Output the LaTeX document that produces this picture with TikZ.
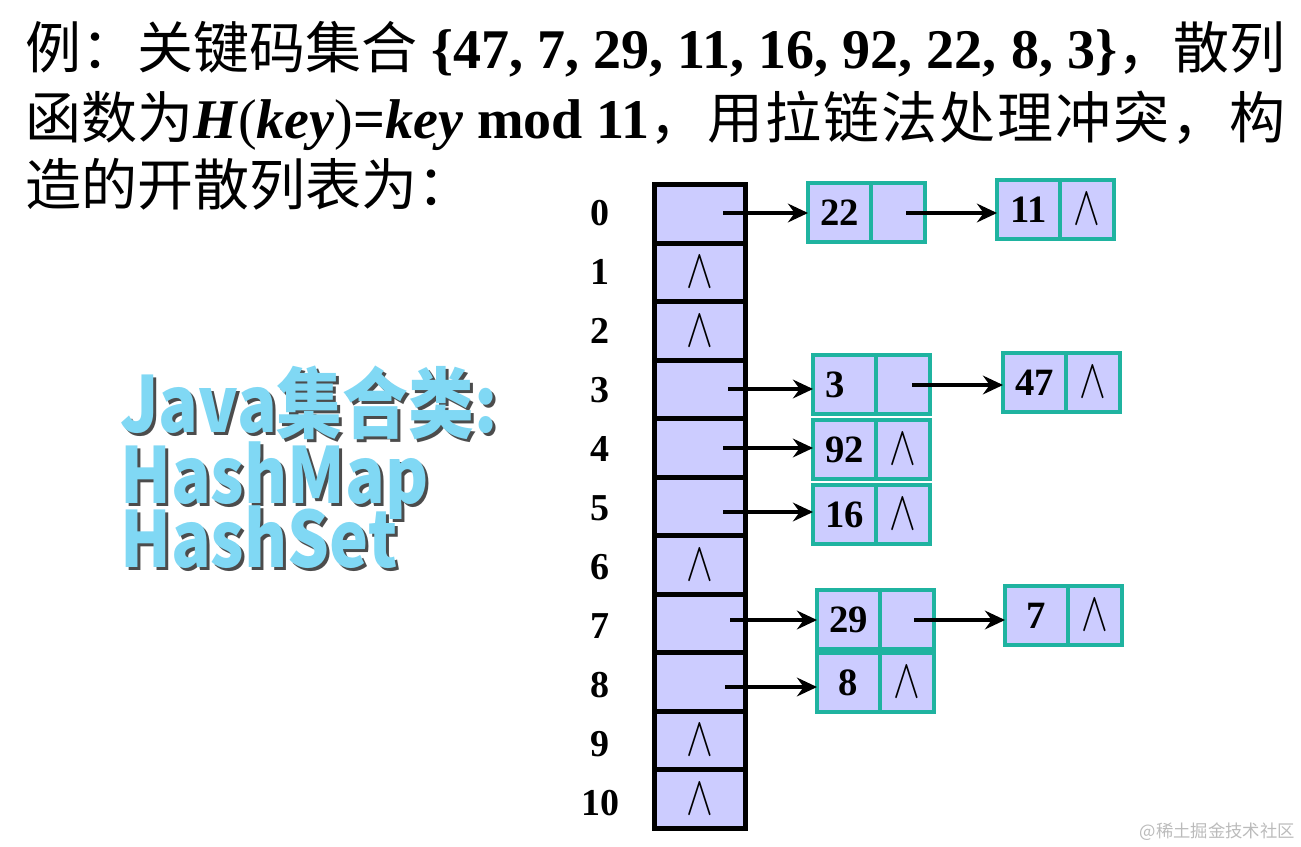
\documentclass[tikz,border=0pt]{standalone}
\usepackage{fontspec}
\usetikzlibrary{arrows.meta}
\setmainfont{Liberation Serif}
\newfontfamily\cjk{Noto Sans CJK SC}
\definecolor{cellfill}{HTML}{CCCCFF}
\definecolor{tealb}{HTML}{1FB3A0}
\definecolor{javacyan}{HTML}{80D8F4}
\definecolor{wmgray}{HTML}{BBBBBB}
\newcommand\nul{\scalebox{1.45}[2.0]{\fontsize{20.74}{20}\selectfont$\wedge$}}
\newcommand\gs{\hskip 0pt plus 1fil\relax}
\tikzset{
  slot/.style={draw=black, line width=3.75pt, fill=cellfill, minimum width=68.25pt,
    minimum height=43.875pt, anchor=north west, inner sep=0pt, outer sep=0pt},
  idx/.style={font=\fontsize{28.5}{28}\selectfont\bfseries, anchor=center},
  valcell/.style={draw=tealb, line width=3pt, fill=cellfill, minimum width=47.25pt,
    minimum height=44.25pt, anchor=north west, inner sep=0pt, outer sep=0pt,
    font=\fontsize{29}{29}\selectfont\bfseries},
  ptrcell/.style={draw=tealb, line width=3pt, fill=cellfill, minimum width=40.5pt,
    minimum height=44.25pt, anchor=north west, inner sep=0pt, outer sep=0pt},
  arr/.style={line width=3pt, -{Stealth[length=15pt,width=14pt,inset=5pt]}},
  titletext/.style={anchor=base west, inner sep=0pt, font=\fontsize{42}{42}\selectfont},
  javatext/.style={anchor=base west, inner sep=0pt, font=\cjk\bfseries\fontsize{58}{58}\selectfont},
}
\newcommand\lnode[5]{%
  \node[valcell] (#1v) at (#2,#3) {#4};
  \node[ptrcell] (#1p) at (#1v.north east) {#5};}
\begin{document}
\begin{tikzpicture}[x=0.75pt,y=-0.75pt]
\useasboundingbox (0,0) rectangle (1301,846);
% title
\node[titletext] (l1) at (25,68) {\makebox[945pt][s]{{\cjk 例：关键码集合} \textbf{\{47, 7, 29, 11, 16, 92, 22, 8, 3\}}{\cjk ，散列}}};
\node[titletext] (l2) at (25,138) {\makebox[945pt][s]{{\cjk 函数为}\textbf{\textit{H}}(\textbf{\textit{key}})\textbf{=\textit{key} mod 11}{\cjk ，\gs 用\gs 拉\gs 链\gs 法\gs 处\gs 理\gs 冲\gs 突\gs ，\gs 构}}};
\node[titletext] (l3) at (25,205) {{\cjk 造的开散列表为：}};
% java text
\foreach \t/\yy [count=\k] in {Java集合类:/432, HashMap/503, HashSet/567}{
  \node[javatext, text=black!70] (js\k) at (123,\yy+3) {\scalebox{0.85}[1]{\t}};
  \node[javatext, text=javacyan] (j\k) at (120,\yy) {\scalebox{0.85}[1]{\t}};
}
% table
\foreach \i/\c in {0/,1/\nul,2/\nul,3/,4/,5/,6/\nul,7/,8/,9/\nul,10/\nul}{
  \node[slot] (c\i) at (654,184.5+58.5*\i) {\c};
  \node[idx] (i\i) at (600,213+59*\i) {\i};
}
% list nodes
\lnode{n22}{808}{183}{22}{}
\lnode{n11}{997}{180}{11}{\nul}
\lnode{n3}{813}{355}{\hspace*{-14pt}3}{}
\lnode{n47}{1003}{353}{47}{\nul}
\lnode{n92}{813}{420}{92}{\nul}
\lnode{n16}{813}{485}{16}{\nul}
\lnode{n29}{817}{590}{29}{}
\lnode{n7}{1005}{586}{7}{\nul}
\lnode{n8}{817}{653}{8}{\nul}
% arrow start points
\coordinate (s0) at (723,213);
\coordinate (s3) at (728,389);
\coordinate (s4) at (723,448);
\coordinate (s5) at (723,512);
\coordinate (s7) at (730,620);
\coordinate (s8) at (725,687);
\coordinate (t22) at (906,213);
\coordinate (t3) at (912,385);
\coordinate (t29) at (914,620);
\draw[arr] (s0) -- (s0 -| n22v.west);
\draw[arr] (s3) -- (s3 -| n3v.west);
\draw[arr] (s4) -- (s4 -| n92v.west);
\draw[arr] (s5) -- (s5 -| n16v.west);
\draw[arr] (s7) -- (s7 -| n29v.west);
\draw[arr] (s8) -- (s8 -| n8v.west);
\draw[arr] (t22) -- (t22 -| n11v.west);
\draw[arr] (t3) -- (t3 -| n47v.west);
\draw[arr] (t29) -- (t29 -| n7v.west);
% watermark
\node[anchor=base east, inner sep=0pt, text=wmgray, font=\cjk\fontsize{13}{13}\selectfont] (wm) at (1295,837) {@稀土掘金技术社区};
\end{tikzpicture}
\end{document}
